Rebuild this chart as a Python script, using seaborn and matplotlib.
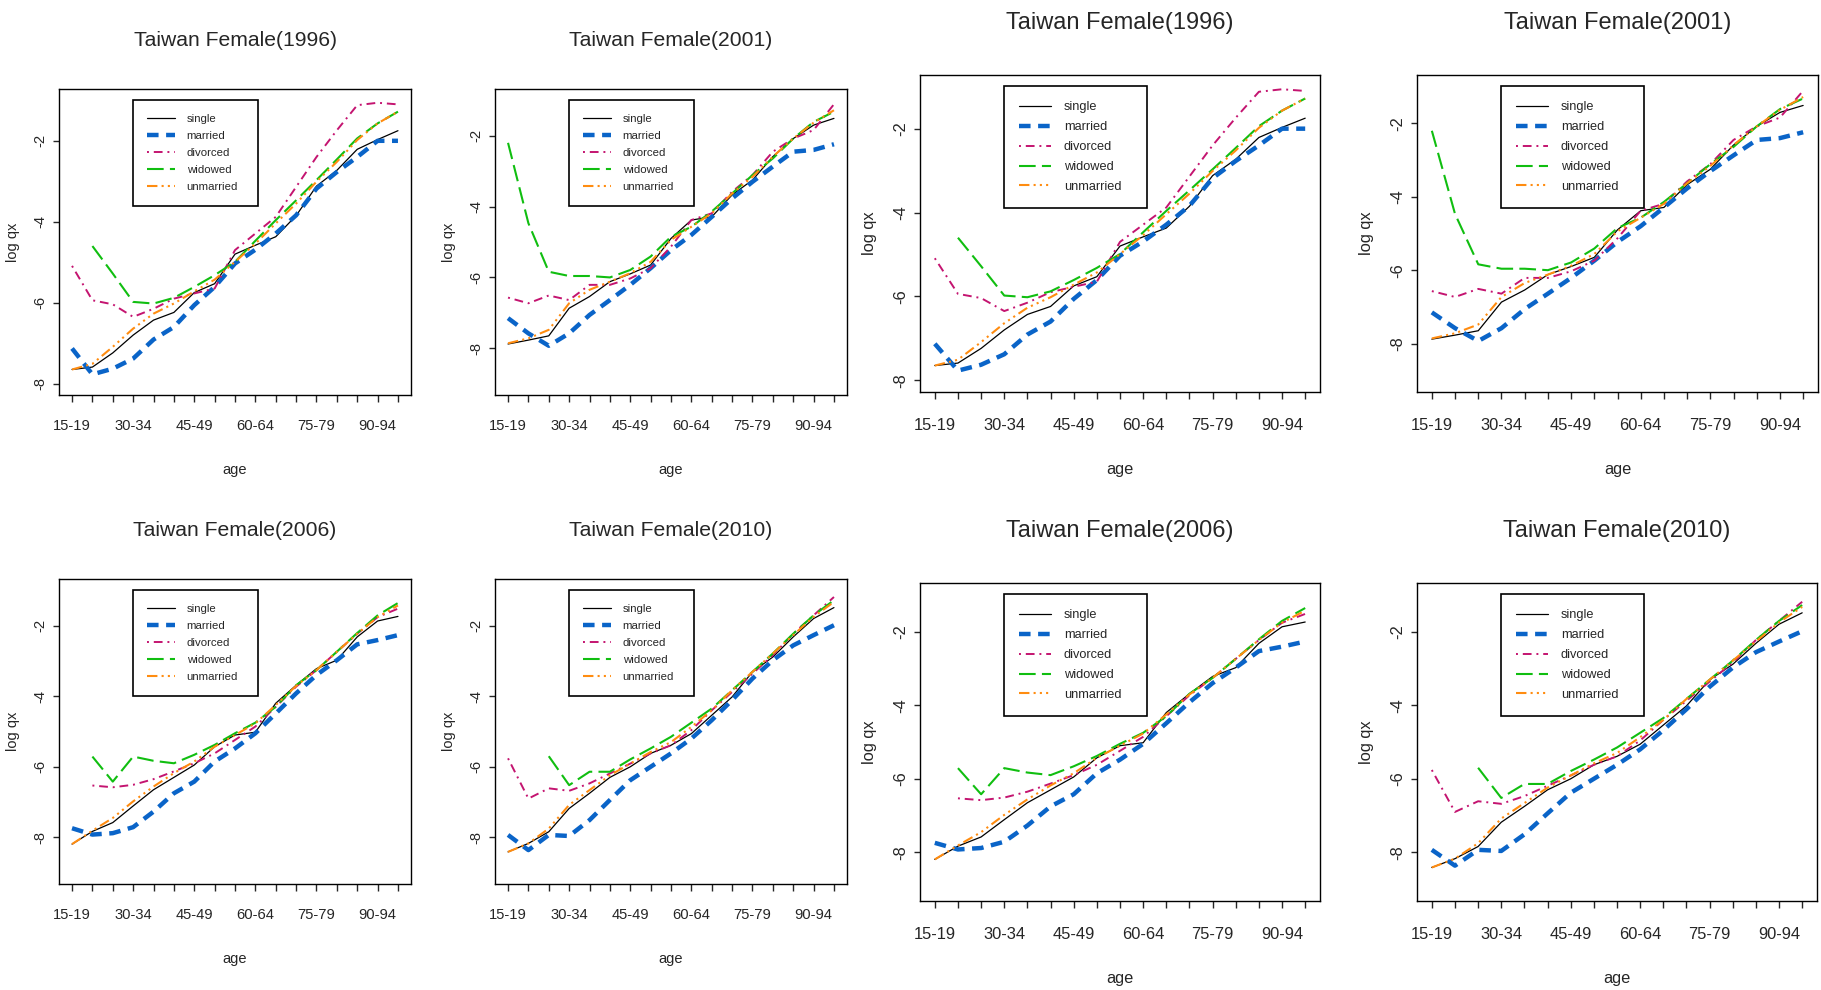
import numpy as np
import matplotlib
matplotlib.use("Agg")
import matplotlib.pyplot as plt
import seaborn as sns

nan = np.nan

# age groups 15-19 ... 95-99
ages = ['15-19', '20-24', '25-29', '30-34', '35-39', '40-44', '45-49', '50-54', '55-59',
        '60-64', '65-69', '70-74', '75-79', '80-84', '85-89', '90-94', '95-99']
shown_ages = ['15-19', '30-34', '45-49', '60-64', '75-79', '90-94']
statuses = ['single', 'married', 'divorced', 'widowed', 'unmarried']

# log qx
single_1996 = [-7.65, -7.59, -7.24, -6.80, -6.43, -6.24, -5.75, -5.53, -4.80, -4.58, -4.37, -3.85, -3.12, -2.73, -2.21, -1.97, -1.75]
married_1996 = [-7.13, -7.77, -7.63, -7.38, -6.91, -6.60, -6.06, -5.61, -5.03, -4.69, -4.29, -3.84, -3.18, -2.77, -2.40, -2.00, -2.00]
divorced_1996 = [-5.09, -5.94, -6.04, -6.35, -6.15, -5.90, -5.77, -5.65, -4.70, -4.29, -3.88, -3.14, -2.40, -1.74, -1.12, -1.06, -1.10]
widowed_1996 = [nan, -4.60, -5.28, -5.98, -6.02, -5.88, -5.61, -5.32, -4.99, -4.47, -3.96, -3.47, -2.97, -2.46, -1.94, -1.57, -1.28]
unmarried_1996 = [-7.65, -7.51, -7.09, -6.64, -6.27, -6.02, -5.72, -5.43, -4.99, -4.54, -4.04, -3.55, -3.01, -2.52, -1.98, -1.57, -1.28]

single_2001 = [-7.88, -7.77, -7.65, -6.87, -6.54, -6.12, -5.90, -5.65, -4.90, -4.38, -4.29, -3.67, -3.25, -2.59, -2.08, -1.70, -1.51]
married_2001 = [-7.15, -7.58, -7.93, -7.58, -7.06, -6.64, -6.21, -5.74, -5.23, -4.80, -4.29, -3.77, -3.30, -2.87, -2.45, -2.40, -2.24]
divorced_2001 = [-6.57, -6.73, -6.51, -6.64, -6.21, -6.21, -6.03, -5.74, -5.13, -4.38, -4.19, -3.58, -3.11, -2.45, -2.08, -1.84, -1.11]
widowed_2001 = [-2.20, -4.47, -5.84, -5.96, -5.96, -6.00, -5.79, -5.41, -4.85, -4.57, -4.14, -3.63, -3.11, -2.64, -2.08, -1.61, -1.32]
unmarried_2001 = [-7.86, -7.72, -7.48, -6.73, -6.35, -6.12, -5.88, -5.56, -4.94, -4.57, -4.19, -3.63, -3.16, -2.59, -2.08, -1.63, -1.28]

single_2006 = [-8.19, -7.83, -7.58, -7.11, -6.65, -6.30, -5.95, -5.43, -5.10, -5.02, -4.20, -3.69, -3.22, -2.98, -2.32, -1.87, -1.74]
married_2006 = [-7.74, -7.92, -7.88, -7.71, -7.27, -6.75, -6.42, -5.85, -5.48, -5.05, -4.49, -3.92, -3.40, -2.98, -2.53, -2.41, -2.27]
divorced_2006 = [nan, -6.53, -6.58, -6.51, -6.35, -6.13, -5.90, -5.62, -5.24, -4.86, -4.30, -3.73, -3.26, -2.74, -2.23, -1.76, -1.52]
widowed_2006 = [nan, -5.71, -6.42, -5.71, -5.83, -5.90, -5.66, -5.38, -5.05, -4.75, -4.30, -3.69, -3.26, -2.74, -2.21, -1.71, -1.36]
unmarried_2006 = [-8.19, -7.81, -7.45, -6.98, -6.56, -6.18, -5.85, -5.43, -5.10, -4.77, -4.25, -3.71, -3.26, -2.74, -2.23, -1.76, -1.43]

single_2010 = [-8.41, -8.17, -7.84, -7.18, -6.75, -6.30, -6.00, -5.62, -5.39, -5.06, -4.54, -4.02, -3.31, -2.89, -2.32, -1.80, -1.49]
married_2010 = [-7.93, -8.36, -7.93, -7.96, -7.51, -6.94, -6.38, -6.00, -5.62, -5.20, -4.68, -4.11, -3.50, -2.98, -2.56, -2.27, -1.99]
divorced_2010 = [-5.76, -6.90, -6.61, -6.68, -6.47, -6.19, -5.91, -5.62, -5.39, -4.96, -4.40, -3.88, -3.36, -2.84, -2.23, -1.71, -1.19]
widowed_2010 = [nan, nan, -5.70, -6.52, -6.14, -6.14, -5.79, -5.48, -5.15, -4.75, -4.35, -3.83, -3.31, -2.79, -2.23, -1.71, -1.28]
unmarried_2010 = [-8.41, -8.17, -7.75, -7.08, -6.66, -6.24, -5.91, -5.58, -5.30, -4.87, -4.40, -3.83, -3.31, -2.79, -2.27, -1.75, -1.33]

years = [1996, 2001, 2006, 2010]
ylims = {1996: (-8, -1), 2001: (-9, -1), 2006: (-9, -1), 2010: (-9, -1)}
series = {
    1996: [single_1996, married_1996, divorced_1996, widowed_1996, unmarried_1996],
    2001: [single_2001, married_2001, divorced_2001, widowed_2001, unmarried_2001],
    2006: [single_2006, married_2006, divorced_2006, widowed_2006, unmarried_2006],
    2010: [single_2010, married_2010, divorced_2010, widowed_2010, unmarried_2010],
}

# line styles (colour, width, dash pattern)
styles = {
    'single': dict(color='black', lw=0.9, ls='-'),
    'married': dict(color='#0A64C8', lw=3.2, ls=(0, (2.6, 1.7))),
    'divorced': dict(color='#C41470', lw=1.4, ls=(0, (1, 2.5, 4.5, 2.5))),
    'widowed': dict(color='#10BE10', lw=1.5, ls=(0, (8, 3))),
    'unmarried': dict(color='#FF8C10', lw=1.5, ls=(0, (5, 2, 1, 2, 1, 2, 1, 2))),
}

sns.set_style("white")
plt.rcParams['font.family'] = ['Liberation Sans', 'DejaVu Sans']

W, H = 1821, 990
fig = plt.figure(figsize=(W / 100, H / 100), dpi=100)
fig.patch.set_facecolor('white')

x = np.arange(len(ages))


def draw_panel(year, left, top, right, bottom, s, big):
    ax = fig.add_axes([left / W, 1 - bottom / H, (right - left) / W, (bottom - top) / H])
    ax.set_facecolor('white')
    for name, vals in zip(statuses, series[year]):
        st = styles[name]
        sns.lineplot(x=x, y=vals, ax=ax, color=st['color'], linewidth=st['lw'],
                     linestyle=st['ls'], estimator=None, errorbar=None, label=name)
    lo, hi = ylims[year]
    pad = 0.04 * (hi - lo)
    ax.set_ylim(lo - pad, hi + pad)
    xpad = 0.04 * (len(ages) - 1)
    ax.set_xlim(-xpad, len(ages) - 1 + xpad)
    ax.set_xticks(x)
    ax.set_xticklabels([a if a in shown_ages else '' for a in ages], fontsize=10.6 * s)
    ax.set_yticks([-8, -6, -4, -2])
    ax.set_yticklabels(['-8', '-6', '-4', '-2'], fontsize=10.6 * s, rotation=90, va='center')
    ax.tick_params(axis='x', direction='out', length=5, width=1, pad=12.5 * s, bottom=True)
    ax.tick_params(axis='y', direction='out', length=4.5, width=1, pad=4, left=True)
    for sp in ax.spines.values():
        sp.set_visible(True)
        sp.set_color('black')
        sp.set_linewidth(1.0)
    wpx, hpx = right - left, bottom - top
    ax.set_xlabel('age', fontsize=10.5 * s)
    ax.set_ylabel('log qx', fontsize=10.5 * s)
    ax.xaxis.set_label_coords(0.5, -(70 if big else 68) / hpx)
    ax.yaxis.set_label_coords(-(43 if big else 39) / wpx, 0.5)
    # legend box
    dx = 84 if big else 74
    lw_ = 143 if big else 125
    leg = ax.legend(loc='upper left', bbox_to_anchor=(dx / wpx, 1 - 11 / hpx, lw_ / wpx, 0),
                    mode='expand', fontsize=8.2 * s, frameon=True, fancybox=False,
                    edgecolor='black', framealpha=1, borderpad=1.2, labelspacing=0.62,
                    handlelength=2.45, handletextpad=1.05, borderaxespad=0)
    leg.get_frame().set_linewidth(1.2)
    # title
    fig.text(((left + right) / 2) / W, 1 - (top - (52 if big else 49)) / H,
             'Taiwan Female(%d)' % year, ha='center', va='center', fontsize=15.2 * s)
    return ax


panels = [
    (1996, 59, 89, 411, 395, False),
    (2001, 495, 89, 847, 395, False),
    (2006, 59, 579, 411, 884, False),
    (2010, 495, 579, 847, 884, False),
    (1996, 920, 75, 1320, 392, True),
    (2001, 1417, 75, 1818, 392, True),
    (2006, 920, 583, 1320, 901, True),
    (2010, 1417, 583, 1817, 901, True),
]

for year, l, t, r, b, big in panels:
    draw_panel(year, l, t, r, b, 1.12 if big else 1.0, big)

fig.savefig('out.png', dpi=100, facecolor='white')
